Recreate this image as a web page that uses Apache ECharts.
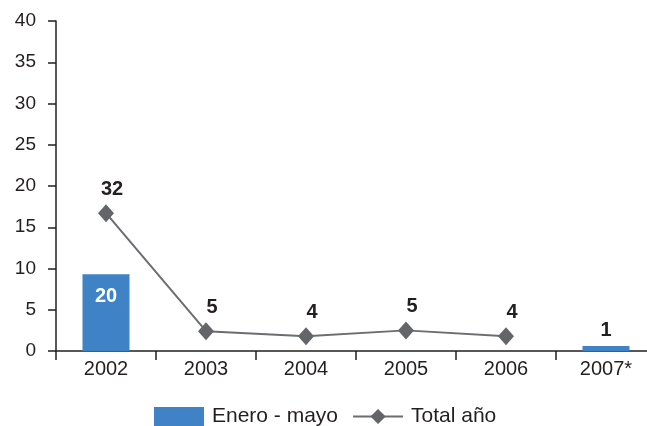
<!DOCTYPE html>
<html>
<head>
<meta charset="utf-8">
<script src="https://cdn.jsdelivr.net/npm/echarts@6/dist/echarts.min.js"></script>
<style>
html,body{margin:0;padding:0;background:#fff;overflow:hidden;}
#chart{width:660px;height:426px;}
</style>
</head>
<body>
<div id="chart"></div>
<script>
// Categories and tick labels
var categories = ['2002', '2003', '2004', '2005', '2006', '2007*'];
var yTicks = [0, 5, 10, 15, 20, 25, 30, 35, 40];

// "Enero - mayo" bars: plotted heights (as drawn) and printed labels
var eneroMayoPlotted = [9.3, null, null, null, null, 0.6];
var eneroMayoLabels = [20, null, null, null, null, 1];

// "Total año" line: plotted heights (as drawn) and printed labels
var totalAnioPlotted = [16.7, 2.4, 1.8, 2.5, 1.8, null];
var totalAnioLabels = [32, 5, 4, 5, 4, null];

var FONT = "'Liberation Sans Narrow', 'Arial Narrow', 'Liberation Sans', Arial, sans-serif";
var TXT = '#231f20';

var barData = eneroMayoPlotted.map(function (v, i) {
  if (v == null) return null;
  var inside = v > 5;
  return {
    value: v,
    label: {
      show: true,
      position: inside ? 'insideTop' : 'top',
      distance: inside ? 12 : 6,
      color: inside ? '#ffffff' : TXT,
      formatter: String(eneroMayoLabels[i])
    }
  };
});

var lineData = totalAnioPlotted.map(function (v, i) {
  if (v == null) return null;
  return { value: v, label: { formatter: String(totalAnioLabels[i]) } };
});

var chart = echarts.init(document.getElementById('chart'), null, { renderer: 'canvas' });
chart.setOption({
  animation: false,
  backgroundColor: '#ffffff',
  textStyle: { fontFamily: FONT, color: TXT },
  grid: { left: 56, width: 600, top: 21, bottom: 75, containLabel: false },
  legend: {
    left: 149,
    top: 401,
    itemWidth: 50,
    itemHeight: 19,
    itemGap: 14,
    textStyle: { fontFamily: FONT, fontSize: 21, color: TXT, padding: [0, 0, 0, 3] },
    data: [
      { name: 'Enero - mayo', icon: 'rect' },
      { name: 'Total año' }
    ]
  },
  xAxis: {
    type: 'category',
    data: categories,
    boundaryGap: true,
    axisLine: { lineStyle: { color: TXT, width: 1.5 } },
    axisTick: { show: true, length: 9, lineStyle: { color: TXT, width: 1.5 } },
    axisLabel: { fontFamily: FONT, fontSize: 20, color: TXT, margin: 8 }
  },
  yAxis: {
    type: 'value',
    min: yTicks[0],
    max: yTicks[yTicks.length - 1],
    interval: yTicks[1] - yTicks[0],
    splitLine: { show: false },
    axisLine: { show: true, lineStyle: { color: TXT, width: 1.5 } },
    axisTick: { show: true, length: 8, lineStyle: { color: TXT, width: 1.5 } },
    axisLabel: { fontFamily: FONT, fontSize: 19, color: TXT, margin: 20 }
  },
  series: [
    {
      name: 'Enero - mayo',
      type: 'bar',
      data: barData,
      barWidth: 47,
      itemStyle: { color: '#3f82c6' },
      label: { fontFamily: FONT, fontSize: 20, fontWeight: 'bold' }
    },
    {
      name: 'Total año',
      type: 'line',
      data: lineData,
      symbol: 'diamond',
      symbolSize: [16, 18],
      itemStyle: { color: '#636569' },
      lineStyle: { color: '#6b6d70', width: 2 },
      label: {
        show: true,
        position: 'top',
        distance: 5,
        offset: [6, 0],
        fontFamily: FONT,
        fontSize: 20,
        fontWeight: 'bold',
        color: TXT
      }
    }
  ]
});
</script>
</body>
</html>
